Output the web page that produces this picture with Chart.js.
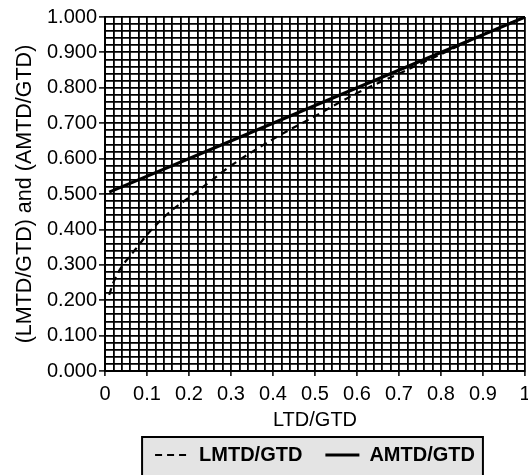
<!DOCTYPE html>
<html><head><meta charset="utf-8">
<script src="https://cdn.jsdelivr.net/npm/chart.js@4/dist/chart.umd.min.js"></script>
<style>html,body{margin:0;padding:0;background:#fff;overflow:hidden}</style>
</head><body>
<canvas id="c" width="528" height="475" style="display:block;width:528px;height:475px"></canvas>
<script>
// x values (LTD/GTD) and series
const ltdGtd  = [0.01, 0.02, 0.04, 0.06, 0.08, 0.10, 0.15, 0.20, 0.25, 0.30, 0.40, 0.50, 0.60, 0.70, 0.80, 0.90, 1.00];
const lmtdGtd = [0.215, 0.25, 0.295, 0.325, 0.355, 0.385, 0.445, 0.49, 0.535, 0.58, 0.655, 0.72, 0.785, 0.84, 0.895, 0.95, 1.00];
const amtdX   = [0.01, 0.25, 0.50, 0.75, 1.00];
const amtdGtd = [0.505, 0.625, 0.75, 0.875, 1.00];
const xTickLabels = ['0','0.1','0.2','0.3','0.4','0.5','0.6','0.7','0.8','0.9','1'];
const yTickLabels = ['0.000','0.100','0.200','0.300','0.400','0.500','0.600','0.700','0.800','0.900','1.000'];
const seriesNames = ['LMTD/GTD', 'AMTD/GTD'];
const seriesDash  = [[7, 5], []];
const xTitle = 'LTD/GTD';
const yTitle = '(LMTD/GTD) and (AMTD/GTD)';

const FONT = "'Liberation Sans', Arial, Helvetica, sans-serif";
const isMajor = v => Math.abs(v * 10 - Math.round(v * 10)) < 1e-6;
const majorIdx = v => Math.round(v * 10);

const legendFrame = {
  id: 'legendFrame',
  beforeDraw(chart) {
    const lg = chart.legend;
    if (!lg || !lg.legendHitBoxes || !lg.legendHitBoxes.length) return;
    const hb = lg.legendHitBoxes;
    const first = hb[0], last = hb[hb.length - 1];
    const cy = first.top + first.height / 2;
    const x0 = first.left - 13, x1 = last.left + last.width + 8;
    const y0 = cy - 18, y1 = cy + 30;
    const ctx = chart.ctx;
    ctx.save();
    ctx.fillStyle = '#e4e4e4';
    ctx.fillRect(x0, y0, x1 - x0, y1 - y0);
    ctx.strokeStyle = '#000';
    ctx.lineWidth = 2;
    ctx.strokeRect(x0, y0, x1 - x0, y1 - y0);
    ctx.restore();
  }
};

new Chart(document.getElementById('c'), {
  type: 'line',
  data: {
    datasets: [
      {
        label: seriesNames[0],
        data: ltdGtd.map((x, i) => ({x, y: lmtdGtd[i]})),
        borderColor: '#000', backgroundColor: '#000',
        borderWidth: 2.2, borderDash: seriesDash[0],
        pointRadius: 0, cubicInterpolationMode: 'monotone', fill: false
      },
      {
        label: seriesNames[1],
        data: amtdX.map((x, i) => ({x, y: amtdGtd[i]})),
        borderColor: '#000', backgroundColor: '#000',
        borderWidth: 3, borderDash: seriesDash[1], pointRadius: 0, tension: 0, fill: false
      }
    ]
  },
  options: {
    responsive: false,
    animation: false,
    devicePixelRatio: 1,
    layout: { autoPadding: false, padding: { left: 10, right: 3, top: 17, bottom: 0 } },
    plugins: {
      tooltip: { enabled: false },
      legend: {
        position: 'bottom',
        fullSize: false,
        labels: {
          usePointStyle: true, pointStyle: 'line', pointStyleWidth: 34,
          boxHeight: 20, padding: 23, color: '#000',
          font: { family: FONT, size: 20, weight: 'bold' },
          generateLabels(chart) {
            const items = Chart.defaults.plugins.legend.labels.generateLabels(chart);
            items.forEach((it, i) => {
              const ds = chart.data.datasets[it.datasetIndex];
              it.lineDash = seriesDash[i] || [];
              it.lineWidth = ds.borderWidth;
              it.strokeStyle = '#000';
            });
            return items;
          }
        }
      }
    },
    scales: {
      x: {
        type: 'linear', min: 0, max: 1,
        afterFit(s) { s.height = 51; s.paddingLeft = 0; s.paddingRight = 0; },
        border: { display: true, color: '#000', width: 2 },
        grid: {
          color: '#000', lineWidth: 1.8, drawTicks: true, tickLength: 5,
          tickColor: c => (c.tick && isMajor(c.tick.value)) ? '#000' : 'rgba(0,0,0,0)',
          tickWidth: 1.5
        },
        ticks: {
          stepSize: 0.02, autoSkip: false, maxRotation: 0, minRotation: 0, padding: 6,
          maxTicksLimit: 100, color: '#000', font: { family: FONT, size: 20 },
          callback: v => isMajor(v) ? xTickLabels[majorIdx(v)] : ''
        },
        title: { display: true, text: xTitle, color: '#000', font: { family: FONT, size: 20 }, padding: { top: 0, bottom: -10 } }
      },
      y: {
        type: 'linear', min: 0, max: 1,
        afterFit(s) { s.width = 95; s.paddingTop = 0; s.paddingBottom = 0; },
        border: { display: true, color: '#000', width: 2 },
        grid: {
          color: '#000', lineWidth: 1.8, drawTicks: true, tickLength: 6,
          tickColor: c => (c.tick && isMajor(c.tick.value)) ? '#000' : 'rgba(0,0,0,0)',
          tickWidth: 1.5
        },
        ticks: {
          stepSize: 0.02, autoSkip: false, padding: 2, maxTicksLimit: 100,
          color: '#000', font: { family: FONT, size: 20 },
          callback: v => isMajor(v) ? yTickLabels[majorIdx(v)] : ''
        },
        title: { display: true, text: yTitle, color: '#000', font: { family: FONT, size: 21.5 }, padding: { top: 2, bottom: 0 } }
      }
    }
  },
  plugins: [legendFrame]
});
</script>
</body></html>
